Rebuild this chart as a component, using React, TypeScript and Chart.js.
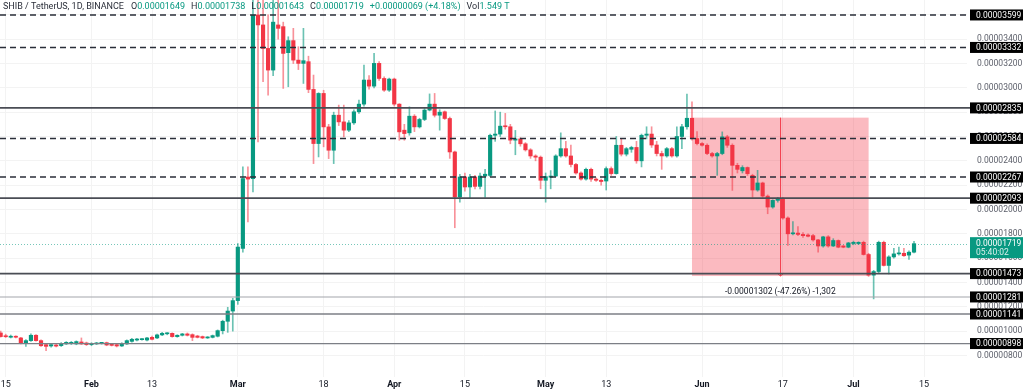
import React, { useEffect, useRef } from 'react';
import { Chart, registerables } from 'chart.js';

Chart.register(...registerables);

// SHIB / TetherUS daily candles. Prices are in units of 1e-8 USDT.
// x = day number, day 0 = 2024-01-15; the first candle is 2024-01-14 (day -1).
const FIRST_DAY = -1;

const opens = [
  985,
  960, 950, 958, 944, 903, 922, 966, 922, 889, 878,
  886, 881, 895, 897, 895, 911, 903, 889, 895, 900,
  905, 895, 889, 878, 895, 916, 927, 930, 927, 949,
  944, 969, 978, 982, 955, 966, 977, 971, 960, 955,
  944, 949, 958, 1004, 1081, 1165, 1251, 1680, 2267, 2254,
  3599, 3517, 3324, 3146, 3517, 3503, 3289, 3388, 3228, 3201,
  3215, 2987, 2542, 2954, 2679, 2487, 2775, 2720, 2652, 2712,
  2803, 2866, 3064, 3014, 3201, 3077, 2981, 3072, 2866, 2652,
  2630, 2767, 2679, 2740, 2817, 2866, 2775, 2803, 2748, 2473,
  2103, 2267, 2185, 2267, 2190, 2275, 2280, 2610, 2620, 2685,
  2680, 2570, 2580, 2540, 2490, 2440, 2430, 2240, 2265, 2275,
  2440, 2500, 2440, 2370, 2300, 2250, 2330, 2250, 2240, 2234,
  2336, 2295, 2528, 2455, 2495, 2510, 2400, 2610, 2620, 2530,
  2460, 2440, 2500, 2440, 2600, 2680, 2750, 2583, 2542, 2528,
  2460, 2440, 2460, 2597, 2528, 2363, 2318, 2345, 2280, 2160,
  2218, 2110, 2020, 2075, 2090, 1930, 1800, 1806, 1795, 1790,
  1785, 1750, 1700, 1775, 1700, 1745, 1700, 1690, 1720, 1720,
  1730, 1630, 1460, 1490, 1730, 1540, 1610, 1635, 1640, 1625, 1649,
];

const highs = [
  1000,
  975, 968, 962, 950, 930, 977, 972, 928, 896, 895,
  892, 906, 914, 915, 920, 944, 910, 905, 908, 908,
  910, 900, 893, 905, 928, 940, 940, 938, 950, 960,
  975, 990, 988, 986, 970, 982, 985, 978, 966, 960,
  955, 968, 1010, 1090, 1196, 1270, 1720, 2350, 2350, 3750,
  4000, 3720, 3600, 3750, 3720, 3540, 3420, 3489, 3338, 3489,
  3260, 3105, 2960, 2980, 2700, 2800, 2858, 2858, 2730, 2820,
  2899, 3187, 3100, 3283, 3215, 3090, 3080, 3080, 2870, 2700,
  2844, 2780, 2750, 2830, 2950, 2954, 2820, 2810, 2760, 2480,
  2290, 2300, 2290, 2280, 2300, 2330, 2620, 2810, 2800, 2790,
  2700, 2650, 2590, 2550, 2500, 2450, 2440, 2300, 2320, 2450,
  2630, 2560, 2530, 2380, 2310, 2340, 2340, 2260, 2250, 2350,
  2350, 2600, 2580, 2510, 2520, 2560, 2620, 2680, 2680, 2560,
  2480, 2510, 2510, 2680, 2700, 2948, 2885, 2640, 2550, 2540,
  2470, 2470, 2638, 2610, 2540, 2380, 2360, 2350, 2290, 2322,
  2225, 2120, 2080, 2100, 2100, 1940, 1900, 1860, 1810, 1800,
  1795, 1755, 1780, 1785, 1760, 1750, 1705, 1730, 1740, 1735,
  1740, 1640, 1500, 1740, 1740, 1620, 1680, 1690, 1680, 1660, 1738,
];

const lows = [
  950,
  948, 944, 944, 895, 875, 915, 918, 875, 840, 868,
  870, 874, 890, 890, 888, 890, 882, 880, 890, 893,
  880, 878, 870, 874, 890, 910, 920, 925, 920, 928,
  938, 962, 970, 950, 950, 960, 960, 922, 944, 938,
  940, 944, 952, 977, 990, 1000, 1220, 1650, 1897, 2144,
  2556, 3050, 2940, 3100, 3400, 2995, 3009, 3200, 3150, 3036,
  2960, 2377, 2432, 2515, 2418, 2377, 2690, 2597, 2640, 2700,
  2790, 2850, 2990, 3000, 3060, 2970, 2970, 2850, 2569, 2569,
  2610, 2640, 2670, 2730, 2810, 2760, 2652, 2740, 2420, 1850,
  2060, 2150, 2090, 2170, 2170, 2100, 2270, 2560, 2600, 2660,
  2540, 2450, 2520, 2480, 2420, 2400, 2170, 2060, 2170, 2270,
  2430, 2430, 2350, 2290, 2240, 2240, 2230, 2230, 2200, 2160,
  2280, 2290, 2440, 2440, 2470, 2380, 2350, 2580, 2510, 2440,
  2330, 2430, 2430, 2430, 2500, 2660, 2570, 2530, 2520, 2450,
  2430, 2281, 2450, 2510, 2157, 2300, 2300, 2280, 2100, 2150,
  2100, 1965, 2010, 2060, 1920, 1705, 1790, 1785, 1770, 1775,
  1740, 1650, 1690, 1690, 1695, 1685, 1685, 1685, 1710, 1712,
  1625, 1450, 1265, 1480, 1535, 1470, 1600, 1625, 1615, 1590, 1643,
];

const closes = [
  955,
  954, 958, 950, 903, 922, 966, 922, 880, 875, 889,
  877, 900, 908, 908, 914, 895, 889, 900, 903, 904,
  886, 883, 878, 900, 922, 933, 933, 933, 944, 933,
  969, 982, 982, 955, 966, 977, 966, 949, 949, 944,
  950, 963, 1004, 1081, 1165, 1251, 1691, 2254, 2250, 3599,
  3517, 3324, 3146, 3540, 3489, 3283, 3388, 3228, 3201, 3223,
  2987, 2542, 2954, 2679, 2487, 2775, 2720, 2652, 2712, 2803,
  2866, 3064, 3014, 3201, 3077, 2981, 3072, 2866, 2638, 2624,
  2767, 2679, 2740, 2817, 2866, 2775, 2800, 2748, 2473, 2103,
  2267, 2185, 2267, 2190, 2275, 2290, 2610, 2620, 2685, 2680,
  2570, 2580, 2540, 2490, 2440, 2430, 2240, 2270, 2275, 2440,
  2500, 2440, 2370, 2300, 2250, 2330, 2250, 2240, 2230, 2336,
  2295, 2528, 2455, 2500, 2510, 2400, 2610, 2620, 2530, 2460,
  2440, 2500, 2440, 2600, 2680, 2750, 2583, 2542, 2528, 2460,
  2440, 2460, 2597, 2528, 2363, 2330, 2345, 2295, 2160, 2218,
  2110, 2020, 2075, 2090, 1930, 1800, 1806, 1795, 1785, 1780,
  1750, 1700, 1775, 1700, 1745, 1690, 1690, 1725, 1730, 1730,
  1630, 1460, 1490, 1730, 1540, 1610, 1635, 1640, 1620, 1649, 1719,
];

// time axis
const tickDays = [0, 17, 29, 46, 63, 77, 91, 107, 119, 138, 154, 168, 182];
const tickLabels = ['15', 'Feb', '13', 'Mar', '18', 'Apr', '15', 'May', '13', 'Jun', '17', 'Jul', '15'];
const monthLabels = ['Feb', 'Mar', 'Apr', 'May', 'Jun', 'Jul'];

// price axis
const priceTicks = [800, 1000, 1200, 1400, 1600, 1800, 2000, 2200, 2400, 2600, 2800, 3000, 3200, 3400, 3600];
const levelValues = [3599, 3332, 2835, 2584, 2267, 2093, 1473, 1281, 1141, 898];
const levelStyles = ['dash', 'dash', 'solid', 'dash', 'dash', 'solid', 'solid', 'light', 'mid', 'mid'];

const lastPrice = 1719;
const countdown = '05:40:02';

// price range measurement
const rangeStartDay = 136;
const rangeEndDay = 171;
const rangeTop = 2755;
const rangeBottom = 1453;
const rangeLabel = '-0.00001302 (-47.26%) -1,302';

const headerParts = [
  ['SHIB / TetherUS, 1D, BINANCE', 'd', 7],
  ['O', 'd', 0], ['0.00001649', 'g', 6],
  ['H', 'd', 0], ['0.00001738', 'g', 6],
  ['L', 'd', 0], ['0.00001643', 'g', 6],
  ['C', 'd', 0], ['0.00001719', 'g', 6],
  ['+0.00000069 (+4.18%)', 'g', 6],
  ['Vol', 'd', 0], ['1.549 T', 'g', 0],
];

const GREEN = '#089981';
const RED = '#F23645';
const DARK = '#131722';
const FONT = 'Roboto, "Liberation Sans", sans-serif';

const X_MIN = -1.13;
const X_MAX = 190.5;
const Y_MIN = 623;
const Y_MAX = 3722;

const fmt = (v: number) => (v / 1e8).toFixed(8);

export default function App() {
  const ref = useRef<HTMLCanvasElement>(null);

  useEffect(() => {
    const canvas = ref.current;
    if (!canvas) return;
    const days = opens.map((_, i) => FIRST_DAY + i);
    const up = opens.map((o, i) => closes[i] >= o);
    const bodies = days.map((d, i) => ({ x: d, y: [opens[i], closes[i]] }));
    const wicks = days.map((d, i) => ({ x: d, y: [lows[i], highs[i]] }));

    const overlay = {
      id: 'overlay',
      beforeDatasetsDraw(chart: any) {
        const { ctx, scales } = chart;
        const x = scales.x, y = scales.y;
        ctx.save();
        const x0 = x.getPixelForValue(rangeStartDay);
        const x1 = x.getPixelForValue(rangeEndDay);
        const y0 = y.getPixelForValue(rangeTop);
        const y1 = y.getPixelForValue(rangeBottom);
        ctx.fillStyle = 'rgba(242,54,69,0.34)';
        ctx.fillRect(x0, y0, x1 - x0, y1 - y0);
        ctx.restore();
      },
      afterDatasetsDraw(chart: any) {
        const { ctx, scales, chartArea } = chart;
        const x = scales.x, y = scales.y;
        ctx.save();
        // range vertical arrow
        const xm = x.getPixelForValue((rangeStartDay + rangeEndDay) / 2);
        const y0 = y.getPixelForValue(rangeTop);
        const y1 = y.getPixelForValue(rangeBottom);
        ctx.strokeStyle = 'rgba(242,54,69,0.9)';
        ctx.lineWidth = 1;
        ctx.beginPath();
        ctx.moveTo(Math.round(xm) + 0.5, y0);
        ctx.lineTo(Math.round(xm) + 0.5, y1);
        ctx.moveTo(Math.round(xm) - 3, y1 - 3);
        ctx.lineTo(Math.round(xm) + 0.5, y1);
        ctx.lineTo(Math.round(xm) + 4, y1 - 3);
        ctx.stroke();

        // levels
        levelValues.forEach((v, i) => {
          const py = y.getPixelForValue(v);
          const s = levelStyles[i];
          ctx.beginPath();
          if (s === 'dash') {
            ctx.setLineDash([6, 4]);
            ctx.strokeStyle = '#2a2e39';
            ctx.lineWidth = 1.5;
          } else if (s === 'solid') {
            ctx.setLineDash([]);
            ctx.strokeStyle = '#4a4d55';
            ctx.lineWidth = 1.6;
          } else if (s === 'light') {
            ctx.setLineDash([]);
            ctx.strokeStyle = '#a3a5ab';
            ctx.lineWidth = 1.1;
          } else {
            ctx.setLineDash([]);
            ctx.strokeStyle = '#7c7f86';
            ctx.lineWidth = 1.3;
          }
          ctx.moveTo(chartArea.left, py);
          ctx.lineTo(970, py);
          ctx.stroke();
        });

        // last price dotted line
        const lp = y.getPixelForValue(lastPrice);
        ctx.setLineDash([1, 2]);
        ctx.strokeStyle = 'rgba(8,153,129,0.55)';
        ctx.lineWidth = 1;
        ctx.beginPath();
        ctx.moveTo(chartArea.left, Math.round(lp) + 0.5);
        ctx.lineTo(chartArea.right, Math.round(lp) + 0.5);
        ctx.stroke();
        ctx.setLineDash([]);

        // range label
        ctx.font = `8.5px ${FONT}`;
        ctx.fillStyle = DARK;
        ctx.textAlign = 'center';
        ctx.textBaseline = 'middle';
        ctx.fillText(rangeLabel, xm, y1 + 15.5);

        // header
        ctx.font = `9px ${FONT}`;
        ctx.textAlign = 'left';
        let hx = 3;
        headerParts.forEach(([t, c, gap]) => {
          ctx.fillStyle = c === 'g' ? GREEN : '#2a2e39';
          ctx.fillText(t as string, hx, 6.5);
          hx += ctx.measureText(t as string).width + (gap as number);
        });
        ctx.restore();
      },
      afterDraw(chart: any) {
        const { ctx, scales } = chart;
        const y = scales.y;
        ctx.save();
        ctx.font = `8.5px ${FONT}`;
        ctx.textAlign = 'left';
        ctx.textBaseline = 'middle';
        levelValues.forEach((v) => {
          const py = y.getPixelForValue(v);
          ctx.fillStyle = '#000';
          ctx.fillRect(970, py - 5.5, 53, 11);
          ctx.fillStyle = '#fff';
          ctx.fillText(fmt(v), 976, py + 0.5);
        });
        const lp = y.getPixelForValue(lastPrice);
        ctx.fillStyle = GREEN;
        ctx.fillRect(970, lp - 6.5, 53, 21);
        ctx.fillStyle = '#fff';
        ctx.fillText(fmt(lastPrice), 976, lp + 0.5);
        ctx.fillStyle = 'rgba(255,255,255,0.85)';
        ctx.fillText(countdown, 976, lp + 9.5);
        ctx.restore();
      },
    };

    const chart = new Chart(canvas, {
      type: 'bar',
      data: {
        datasets: [
          {
            data: bodies as any,
            backgroundColor: up.map((u) => (u ? GREEN : RED)),
            barThickness: 3.5,
            grouped: false,
            order: 0,
            minBarLength: 1,
            borderWidth: 0,
            borderSkipped: false,
          } as any,
          {
            data: wicks as any,
            backgroundColor: up.map((u) => (u ? 'rgba(8,153,129,0.6)' : 'rgba(242,54,69,0.55)')),
            barThickness: 1,
            grouped: false,
            order: 1,
            borderWidth: 0,
            borderSkipped: false,
          } as any,
        ],
      },
      options: {
        animation: false,
        responsive: false,
        layout: { padding: 0 },
        plugins: { legend: { display: false }, tooltip: { enabled: false } },
        scales: {
          x: {
            type: 'linear',
            min: X_MIN,
            max: X_MAX,
            offset: false,
            afterBuildTicks: (s: any) => {
              s.ticks = tickDays.map((v) => ({ value: v }));
            },
            afterFit: (s: any) => {
              s.height = 13;
              s.paddingLeft = 0;
              s.paddingRight = 0;
            },
            grid: { color: '#f3f3f3', drawTicks: false, offset: false },
            border: { display: false },
            ticks: {
              autoSkip: false,
              maxRotation: 0,
              padding: 2,
              color: DARK,
              font: (c: any) => {
                const idx = c.tick ? tickDays.indexOf(c.tick.value) : -1;
                const bold = idx >= 0 && monthLabels.includes(tickLabels[idx]);
                return { family: FONT, size: 9, weight: bold ? 'bold' : 'normal' };
              },
              callback: (v: any) => {
                const idx = tickDays.indexOf(Number(v));
                return idx >= 0 ? tickLabels[idx] : '';
              },
            },
          } as any,
          y: {
            position: 'right',
            min: Y_MIN,
            max: Y_MAX,
            afterBuildTicks: (s: any) => {
              s.ticks = priceTicks.map((v) => ({ value: v }));
            },
            afterFit: (s: any) => {
              s.width = 57;
              s.paddingTop = 0;
              s.paddingBottom = 0;
            },
            grid: { color: '#f3f3f3', drawTicks: false },
            border: { display: false },
            ticks: {
              padding: 10,
              color: '#5d606b',
              font: { family: FONT, size: 8.5 },
              callback: (v: any) => fmt(Number(v)),
            },
          } as any,
        },
      },
      plugins: [overlay],
    });

    return () => chart.destroy();
  }, []);

  return (
    <div style={{ position: 'fixed', left: 0, top: 0, width: 1024, height: 390, background: '#fff' }}>
      <canvas ref={ref} width={1024} height={390} style={{ display: 'block' }} />
    </div>
  );
}
